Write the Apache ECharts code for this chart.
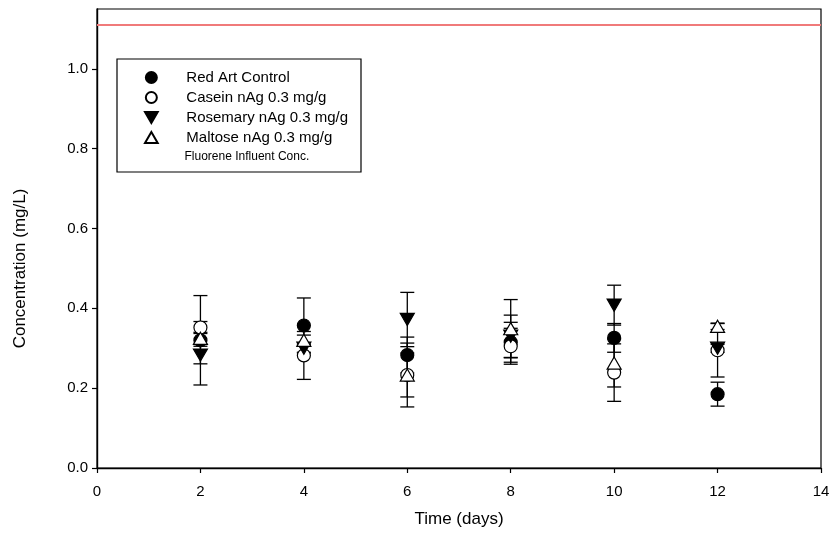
<!DOCTYPE html>
<html>
<head>
<meta charset="utf-8">
<script src="https://cdn.jsdelivr.net/npm/echarts@6/dist/echarts.min.js"></script>
<style>html,body{margin:0;padding:0;background:#fff}#c{width:839px;height:548px}</style>
</head>
<body>
<div id="c"></div>
<script>
const days = [2, 4, 6, 8, 10, 12];
const redArt = [0.320, 0.357, 0.283, 0.315, 0.326, 0.185];
const redArtErr = [0.112, 0.069, 0.045, 0.050, 0.036, 0.030];
const casein = [0.352, 0.282, 0.233, 0.305, 0.239, 0.295];
const caseinErr = [0.015, 0.060, 0.080, 0.045, 0.072, 0.067];
const rosemary = [0.283, 0.300, 0.372, 0.330, 0.408, 0.300];
const rosemaryErr = [0.022, 0.010, 0.068, 0.053, 0.050, 0.010];
const maltose = [0.325, 0.320, 0.233, 0.349, 0.263, 0.355];
const maltoseErr = [0.015, 0.013, 0.055, 0.073, 0.060, 0.008];
const influentConc = 1.11;
const xTicks = [0, 2, 4, 6, 8, 10, 12, 14];
const yTicks = [0, 0.2, 0.4, 0.6, 0.8, 1.0];

const names = ['Red Art Control', 'Casein nAg 0.3 mg/g', 'Rosemary nAg 0.3 mg/g', 'Maltose nAg 0.3 mg/g'];
const influentName = 'Fluorene Influent Conc.';
const FONT = 'Liberation Sans, Arial, sans-serif';

const downTri = 'path://M0,0L10,0L5,8.66Z';
const upTri = 'path://M5,0L10,8.66L0,8.66Z';

const groups = [
  {name: names[0], vals: redArt, errs: redArtErr, symbol: 'circle', size: 13, fill: '#000'},
  {name: names[1], vals: casein, errs: caseinErr, symbol: 'circle', size: 13, fill: '#fff'},
  {name: names[2], vals: rosemary, errs: rosemaryErr, symbol: downTri, size: 14, fill: '#000'},
  {name: names[3], vals: maltose, errs: maltoseErr, symbol: upTri, size: 14, fill: '#fff'}
];

const errData = [];
groups.forEach(g => g.vals.forEach((v, i) => errData.push([days[i], v - g.errs[i], v + g.errs[i]])));

const series = [];
series.push({
  type: 'custom',
  name: 'errors',
  z: 1,
  silent: true,
  data: errData,
  encode: {x: 0, y: [1, 2]},
  renderItem: function (params, api) {
    const x = api.value(0);
    const lo = api.coord([x, api.value(1)]);
    const hi = api.coord([x, api.value(2)]);
    const hw = 7;
    const st = {stroke: '#000', lineWidth: 1.3};
    return {
      type: 'group',
      children: [
        {type: 'line', shape: {x1: lo[0], y1: lo[1], x2: hi[0], y2: hi[1]}, style: st},
        {type: 'line', shape: {x1: lo[0] - hw, y1: lo[1], x2: lo[0] + hw, y2: lo[1]}, style: st},
        {type: 'line', shape: {x1: hi[0] - hw, y1: hi[1], x2: hi[0] + hw, y2: hi[1]}, style: st}
      ]
    };
  }
});
groups.forEach(g => {
  series.push({
    type: 'scatter',
    name: g.name,
    z: 3,
    symbol: g.symbol,
    symbolSize: g.size,
    symbolKeepAspect: true,
    itemStyle: {color: g.fill, borderColor: '#000', borderWidth: 1.2, opacity: 1},
    data: g.vals.map((v, i) => [days[i], v])
  });
});
series.push({
  type: 'line',
  name: influentName,
  z: 2,
  symbol: 'none',
  silent: true,
  lineStyle: {color: '#f07a7a', width: 2},
  data: [[0, influentConc], [14, influentConc]]
});

const chart = echarts.init(document.getElementById('c'), null, {renderer: 'canvas'});
chart.setOption({
  animation: false,
  backgroundColor: '#fff',
  textStyle: {fontFamily: FONT},
  grid: {left: 97, right: 18, top: 9, bottom: 80, show: true, borderColor: '#000', borderWidth: 1.2, backgroundColor: 'transparent'},
  xAxis: {
    type: 'value', min: 0, max: 14, interval: 2,
    name: 'Time (days)', nameLocation: 'middle', nameGap: 43,
    nameTextStyle: {fontSize: 17, color: '#000', fontFamily: FONT},
    axisLine: {show: true, lineStyle: {color: '#000', width: 1.4}},
    axisTick: {show: true, inside: false, length: 5, lineStyle: {color: '#000', width: 1.2}},
    axisLabel: {fontSize: 15, color: '#000', margin: 16, fontFamily: FONT},
    splitLine: {show: false}
  },
  yAxis: {
    type: 'value', min: 0, max: 1.15, interval: 0.2,
    name: 'Concentration (mg/L)', nameLocation: 'middle', nameGap: 68,
    nameTextStyle: {fontSize: 17, color: '#000', fontFamily: FONT, padding: [0, 60, 0, 0]},
    axisLine: {show: true, lineStyle: {color: '#000', width: 1.4}},
    axisTick: {show: true, inside: false, length: 5, lineStyle: {color: '#000', width: 1.2}, customValues: yTicks},
    axisLabel: {fontSize: 15, color: '#000', margin: 9, fontFamily: FONT, customValues: yTicks,
      formatter: v => (Math.abs(v / 0.2 - Math.round(v / 0.2)) < 1e-6 ? v.toFixed(1) : '')},
    splitLine: {show: false}
  },
  legend: [
    {
      data: names, orient: 'vertical', left: 144, top: 70, padding: 0,
      itemWidth: 60, itemHeight: 11, itemGap: 5, selectedMode: false,
      textStyle: {fontSize: 15, color: '#000', fontFamily: FONT}
    },
    {
      data: [{name: influentName, icon: 'circle', itemStyle: {opacity: 0}, lineStyle: {opacity: 0}}],
      orient: 'vertical', left: 144, top: 151, padding: 0,
      itemWidth: 60, itemHeight: 11, selectedMode: false,
      textStyle: {fontSize: 12, color: '#000', fontFamily: FONT}
    }
  ],
  graphic: [{
    type: 'rect', z: 0, silent: true,
    shape: {x: 117, y: 59, width: 244, height: 113},
    style: {fill: '#fff', stroke: '#000', lineWidth: 1.2}
  }],
  series: series
});
</script>
</body>
</html>
